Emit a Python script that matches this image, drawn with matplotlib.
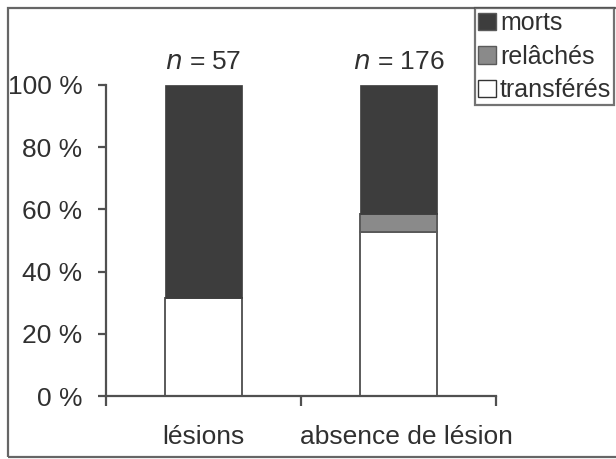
import matplotlib
matplotlib.use("Agg")
import matplotlib.pyplot as plt
import matplotlib.transforms as mtransforms
from matplotlib.patches import Rectangle, Patch
from matplotlib.ticker import FixedLocator, FuncFormatter

plt.rcParams['font.family'] = ['Liberation Sans', 'DejaVu Sans']

categories = ["lésions", "absence de lésion"]
n_values = [57, 176]
transferes = [31.6, 52.8]
relaches = [0.0, 5.7]
morts = [68.4, 41.5]
series_names = ["morts", "relâchés", "transférés"]
yticks = [0, 20, 40, 60, 80, 100]

col_morts = "#3d3d3d"
col_rel = "#8a8a8a"
col_tr = "#ffffff"
edge = "#5a5a5a"
axcol = "#505050"
txt = "#303030"
fs = 19

fig = plt.figure(figsize=(6.16, 4.59), dpi=100)
ax = fig.add_axes([105.5/616, 1-396/459, 390.5/616, 311/459])

x = list(range(len(categories)))
w = 0.395
ax.bar(x, transferes, w, color=col_tr, edgecolor=edge, linewidth=1.4)
bot2 = transferes
ax.bar(x, relaches, w, bottom=bot2, color=col_rel, edgecolor=edge, linewidth=1.4)
bot3 = [a + b for a, b in zip(transferes, relaches)]
ax.bar(x, morts, w, bottom=bot3, color=col_morts, edgecolor=col_morts, linewidth=0.5)

for xi, n, tot in zip(x, n_values, [a + b for a, b in zip(bot3, morts)]):
    ax.annotate(f"$n$ = {n}", (xi, tot), xytext=(0, 8), textcoords="offset points",
                ha="center", va="bottom", fontsize=fs, color=txt)

ax.set_xlim(-0.5, 1.5)
ax.set_ylim(0, 100)
ax.spines['top'].set_visible(False)
ax.spines['right'].set_visible(False)
for s in ['left', 'bottom']:
    ax.spines[s].set_color(axcol)
    ax.spines[s].set_linewidth(1.6)
ax.set_yticks(yticks)
ax.yaxis.set_major_formatter(FuncFormatter(lambda v, p: f"{int(v)} %"))
ax.tick_params(axis='y', length=5.5, width=1.6, color=axcol, pad=11, labelsize=fs, labelcolor=txt)
ax.set_xticks(x)
ax.set_xticklabels(categories)
ax.tick_params(axis='x', which='major', length=0, pad=21, labelsize=fs, labelcolor=txt)
ax.xaxis.set_minor_locator(FixedLocator([-0.5, 0.5, 1.5]))
ax.tick_params(axis='x', which='minor', length=7, width=1.6, color=axcol)

lbl2 = ax.get_xticklabels()[1]
lbl2.set_transform(lbl2.get_transform() +
                   mtransforms.ScaledTranslation(8/100, 0, fig.dpi_scale_trans))

handles = [Patch(facecolor=col_morts, edgecolor=edge),
           Patch(facecolor=col_rel, edgecolor=edge),
           Patch(facecolor=col_tr, edgecolor="#333333")]
leg = fig.legend(handles, series_names, loc="upper left",
                 bbox_to_anchor=(475/616, 1-8/459), bbox_transform=fig.transFigure,
                 borderaxespad=0, fontsize=18, frameon=True, fancybox=False,
                 handlelength=0.7, handleheight=0.7, handletextpad=0.18,
                 labelspacing=0.38, borderpad=0.12, labelcolor=txt)
leg.get_frame().set_edgecolor(axcol)
leg.get_frame().set_linewidth(1.6)

fig.patches.append(Rectangle((7.5/616, 2/459), 1.0, 449/459, transform=fig.transFigure,
                             fill=False, edgecolor="#666666", linewidth=1.6, zorder=0))

fig.savefig("out.png", dpi=100)
